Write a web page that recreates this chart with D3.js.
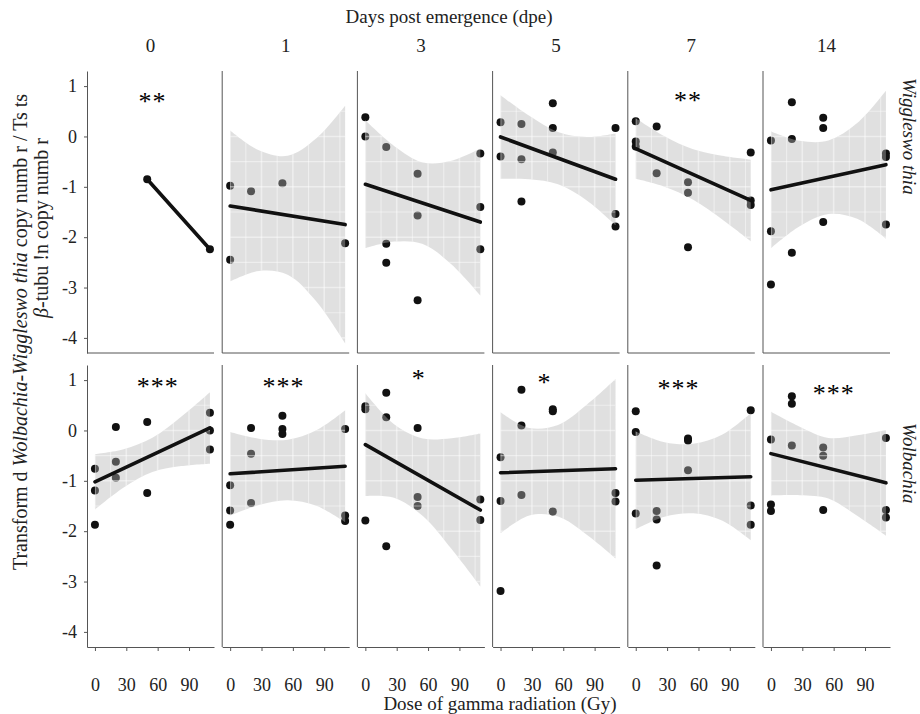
<!DOCTYPE html>
<html>
<head>
<meta charset="utf-8">
<script src="https://cdn.jsdelivr.net/npm/d3@7"></script>
<style>
  body { margin: 0; background: #fff; }
  svg { font-family: "Liberation Serif", "Times New Roman", serif; }
</style>
</head>
<body>
<div id="chart"></div>
<script>
// facets
const days = ["0", "1", "3", "5", "7", "14"];
const symbionts = ["Wiggleswo  thia", "Wolbachia"];

// axis ticks
const xTicks = [0, 30, 60, 90];
const yTicks = [1, 0, -1, -2, -3, -4];

// points [dose, value], one list per day
const wigPoints = [
  [[50, -0.85], [110, -2.24]],
  [[0, -0.98], [0, -2.45], [20, -1.09], [50, -0.93], [110, -2.12]],
  [[0, 0.38], [0, 0.0], [20, -0.21], [20, -2.13], [20, -2.51], [50, -0.74], [50, -1.57], [50, -3.25], [110, -0.34], [110, -1.40], [110, -2.24]],
  [[0, 0.28], [0, -0.40], [20, 0.25], [20, -0.45], [20, -1.29], [50, 0.66], [50, 0.17], [50, -0.32], [110, 0.17], [110, -1.54], [110, -1.79]],
  [[0, 0.30], [0, -0.10], [0, -0.20], [20, 0.20], [20, -0.73], [50, -0.91], [50, -1.12], [50, -2.20], [110, -0.32], [110, -1.27], [110, -1.36]],
  [[0, -0.08], [0, -1.88], [0, -2.94], [20, 0.68], [20, -0.05], [20, -2.31], [50, 0.37], [50, 0.17], [50, -1.70], [110, -0.34], [110, -0.41], [110, -1.75]]
];
const wolPoints = [
  [[0, -0.76], [0, -1.19], [0, -1.87], [20, 0.07], [20, -0.62], [20, -0.94], [50, 0.17], [50, -1.24], [110, 0.35], [110, 0.0], [110, -0.38]],
  [[0, -1.09], [0, -1.59], [0, -1.87], [20, 0.05], [20, -0.46], [20, -1.44], [50, 0.29], [50, 0.03], [50, -0.07], [110, 0.03], [110, -1.69], [110, -1.80]],
  [[0, 0.48], [0, 0.42], [0, -1.79], [20, 0.75], [20, 0.26], [20, -2.30], [50, 0.05], [50, -1.32], [50, -1.50], [110, -1.37], [110, -1.78]],
  [[0, -0.53], [0, -1.40], [0, -3.19], [20, 0.81], [20, 0.10], [20, -1.28], [50, 0.42], [50, 0.38], [50, -1.61], [110, -1.24], [110, -1.41]],
  [[0, 0.38], [0, -0.03], [0, -1.65], [20, -1.60], [20, -1.77], [20, -2.68], [50, -0.16], [50, -0.20], [50, -0.79], [110, 0.40], [110, -1.49], [110, -1.87]],
  [[0, -0.18], [0, -1.47], [0, -1.60], [20, 0.68], [20, 0.53], [20, -0.30], [50, -0.34], [50, -0.50], [50, -1.58], [110, -0.15], [110, -1.58], [110, -1.73]]
];

// fitted lines [[dose, value], [dose, value]]
const wigFits = [
  [[50, -0.85], [110, -2.24]],
  [[0, -1.38], [110, -1.75]],
  [[0, -0.95], [110, -1.70]],
  [[0, -0.01], [110, -0.85]],
  [[0, -0.24], [110, -1.27]],
  [[0, -1.06], [110, -0.56]]
];
const wolFits = [
  [[0, -1.02], [110, 0.05]],
  [[0, -0.86], [110, -0.71]],
  [[0, -0.28], [110, -1.58]],
  [[0, -0.84], [110, -0.76]],
  [[0, -0.99], [110, -0.92]],
  [[0, -0.46], [110, -1.04]]
];

// confidence band half-widths at these doses (null = no band)
const bandDoses = [0, 27.5, 55, 82.5, 110];
const wigBands = [
  null,
  [1.50, 1.20, 1.18, 1.62, 2.36],
  [1.27, 0.95, 0.81, 1.03, 1.46],
  [0.83, 0.63, 0.52, 0.63, 0.91],
  [0.60, 0.50, 0.50, 0.63, 0.81],
  [1.16, 0.85, 0.73, 0.95, 1.47]
];
const wolBands = [
  [0.55, 0.38, 0.34, 0.49, 0.71],
  [0.83, 0.66, 0.60, 0.75, 1.11],
  [1.02, 0.73, 0.77, 1.10, 1.52],
  [1.20, 0.87, 0.91, 1.29, 1.78],
  [0.97, 0.74, 0.69, 0.85, 1.26],
  [0.83, 0.68, 0.60, 0.80, 1.05]
];

// significance stars [label, dose, value]
const wigStars = [["**", 55, 0.77], null, null, null, ["**", 50, 0.78], null];
const wolStars = [["***", 60, 0.95], ["***", 51, 0.95], ["*", 51, 1.11], ["*", 42, 1.03], ["***", 41, 0.91], ["***", 60, 0.80]];

const rows = [
  {points: wigPoints, fits: wigFits, bands: wigBands, stars: wigStars},
  {points: wolPoints, fits: wolFits, bands: wolBands, stars: wolStars}
];

// layout
const width = 920, height = 714;
const panelX0 = 87, panelW = 127, panelStep = 135.2;
const rowTop = [71, 365], rowH = 282;

const svg = d3.select("#chart")
  .append("svg")
    .attr("width", width)
    .attr("height", height);

const x = d3.scaleLinear().domain([-7.6, 113.9]).range([0, panelW]);
const y = d3.scaleLinear().domain([-4.3, 1.3]).range([rowH, 0]);

const axisColor = "#555";

rows.forEach(function(row, r) {
  days.forEach(function(day, c) {
    const g = svg.append("g")
      .attr("transform", "translate(" + (panelX0 + c * panelStep) + "," + rowTop[r] + ")");

    // points go under the band so they look grey inside it
    g.selectAll("circle")
      .data(row.points[c])
      .join("circle")
        .attr("cx", d => x(d[0]))
        .attr("cy", d => y(d[1]))
        .attr("r", 4)
        .attr("fill", "#111");

    const fit = row.fits[c];
    const fitAt = d3.scaleLinear().domain([fit[0][0], fit[1][0]]).range([fit[0][1], fit[1][1]]);

    const band = row.bands[c];
    if (band) {
      const bandData = bandDoses.map((d, i) => ({dose: d, mid: fitAt(d), w: band[i]}));
      const area = d3.area()
        .x(d => x(d.dose))
        .y0(d => y(d.mid - d.w))
        .y1(d => y(d.mid + d.w))
        .curve(d3.curveCatmullRom);

      g.append("path")
        .attr("d", area(bandData))
        .attr("fill", "rgb(180,182,180)")
        .attr("fill-opacity", 0.42);

      // light grid, only visible over the band
      const clipId = "clip-" + r + "-" + c;
      g.append("clipPath").attr("id", clipId)
        .append("path").attr("d", area(bandData));

      const grid = g.append("g").attr("clip-path", "url(#" + clipId + ")");
      grid.selectAll(".vgrid")
        .data(d3.range(0, 120, 15))
        .join("line")
          .attr("class", "vgrid")
          .attr("x1", d => x(d)).attr("x2", d => x(d))
          .attr("y1", 0).attr("y2", rowH)
          .attr("stroke", "#fff")
          .attr("stroke-opacity", 0.45)
          .attr("stroke-width", d => d % 30 == 0 ? 1.6 : 1.1);
      grid.selectAll(".hgrid")
        .data(d3.range(-4.5, 1.5, 0.5))
        .join("line")
          .attr("class", "hgrid")
          .attr("x1", 0).attr("x2", panelW)
          .attr("y1", d => y(d)).attr("y2", d => y(d))
          .attr("stroke", "#fff")
          .attr("stroke-opacity", 0.45)
          .attr("stroke-width", d => d % 1 == 0 ? 1.6 : 1.1);
    }

    // fitted line
    g.append("path")
      .attr("d", d3.line().x(d => x(d[0])).y(d => y(d[1]))(fit))
      .attr("fill", "none")
      .attr("stroke", "#111")
      .attr("stroke-width", 3.6)
      .attr("stroke-linecap", "round");

    // stars
    const star = row.stars[c];
    if (star) {
      g.append("text")
        .attr("x", x(star[1]))
        .attr("y", y(star[2]) + 12)
        .attr("text-anchor", "middle")
        .style("font-size", "26px")
        .style("letter-spacing", "1px")
        .attr("fill", "#000")
        .text(star[0]);
    }

    // left axis line
    if (c == 0) {
      const ya = g.append("g")
        .call(d3.axisLeft(y).tickValues(yTicks).tickSize(3).tickSizeOuter(0).tickFormat(d3.format("d")));
      ya.select(".domain").attr("stroke", axisColor);
      ya.selectAll(".tick line").attr("stroke", axisColor);
      ya.selectAll(".tick text")
        .attr("x", -10)
        .style("font-family", "Liberation Serif")
        .style("font-size", "18px")
        .attr("fill", "#222")
        .text(d => d < 0 ? "-" + Math.abs(d) : d);
    } else {
      g.append("line")
        .attr("x1", 0).attr("x2", 0)
        .attr("y1", 0).attr("y2", rowH)
        .attr("stroke", axisColor);
    }

    // bottom line
    if (r == 1) {
      const xa = g.append("g")
        .attr("transform", "translate(0," + rowH + ")")
        .call(d3.axisBottom(x).tickValues(xTicks).tickSize(4).tickSizeOuter(0));
      xa.select(".domain").attr("stroke", axisColor);
      xa.selectAll(".tick line").attr("stroke", axisColor);
      xa.selectAll(".tick text")
        .attr("y", 31)
        .style("font-family", "Liberation Serif")
        .style("font-size", "18px")
        .attr("fill", "#222");
    } else {
      g.append("line")
        .attr("x1", 0).attr("x2", panelW)
        .attr("y1", rowH).attr("y2", rowH)
        .attr("stroke", axisColor);
    }

    // column strip labels
    if (r == 0) {
      svg.append("text")
        .attr("x", panelX0 + c * panelStep + panelW / 2)
        .attr("y", 52)
        .attr("text-anchor", "middle")
        .style("font-size", "19px")
        .attr("fill", "#222")
        .text(day);
    }
  });
});

// top title
svg.append("text")
  .attr("x", 449)
  .attr("y", 23)
  .attr("text-anchor", "middle")
  .style("font-size", "19px")
  .attr("fill", "#222")
  .text("Days post emergence (dpe)");

// bottom title
svg.append("text")
  .attr("x", 500)
  .attr("y", 710)
  .attr("text-anchor", "middle")
  .style("font-size", "19px")
  .attr("fill", "#222")
  .text("Dose of gamma radiation (Gy)");

// row strip labels (right side)
svg.append("text")
  .attr("transform", "translate(903,78) rotate(90)")
  .style("font-size", "19px")
  .style("font-style", "italic")
  .attr("fill", "#222")
  .text(symbionts[0]);
svg.append("text")
  .attr("transform", "translate(903,423) rotate(90)")
  .style("font-size", "19px")
  .style("font-style", "italic")
  .attr("fill", "#222")
  .text(symbionts[1]);

// y title, two lines
const yt1 = svg.append("text")
  .attr("transform", "translate(27,332) rotate(-90)")
  .attr("text-anchor", "middle")
  .style("font-size", "20px")
  .attr("fill", "#222");
yt1.append("tspan").text("Transform d ");
yt1.append("tspan").style("font-style", "italic").text("Wolbachia-Wiggleswo  thia");
yt1.append("tspan").text(" copy numb r / Ts ts");

const yt2 = svg.append("text")
  .attr("transform", "translate(48,228) rotate(-90)")
  .attr("text-anchor", "middle")
  .style("font-size", "20px")
  .attr("fill", "#222");
yt2.append("tspan").style("font-style", "italic").text("β");
yt2.append("tspan").text("-tubu !n copy numb r");
</script>
</body>
</html>
